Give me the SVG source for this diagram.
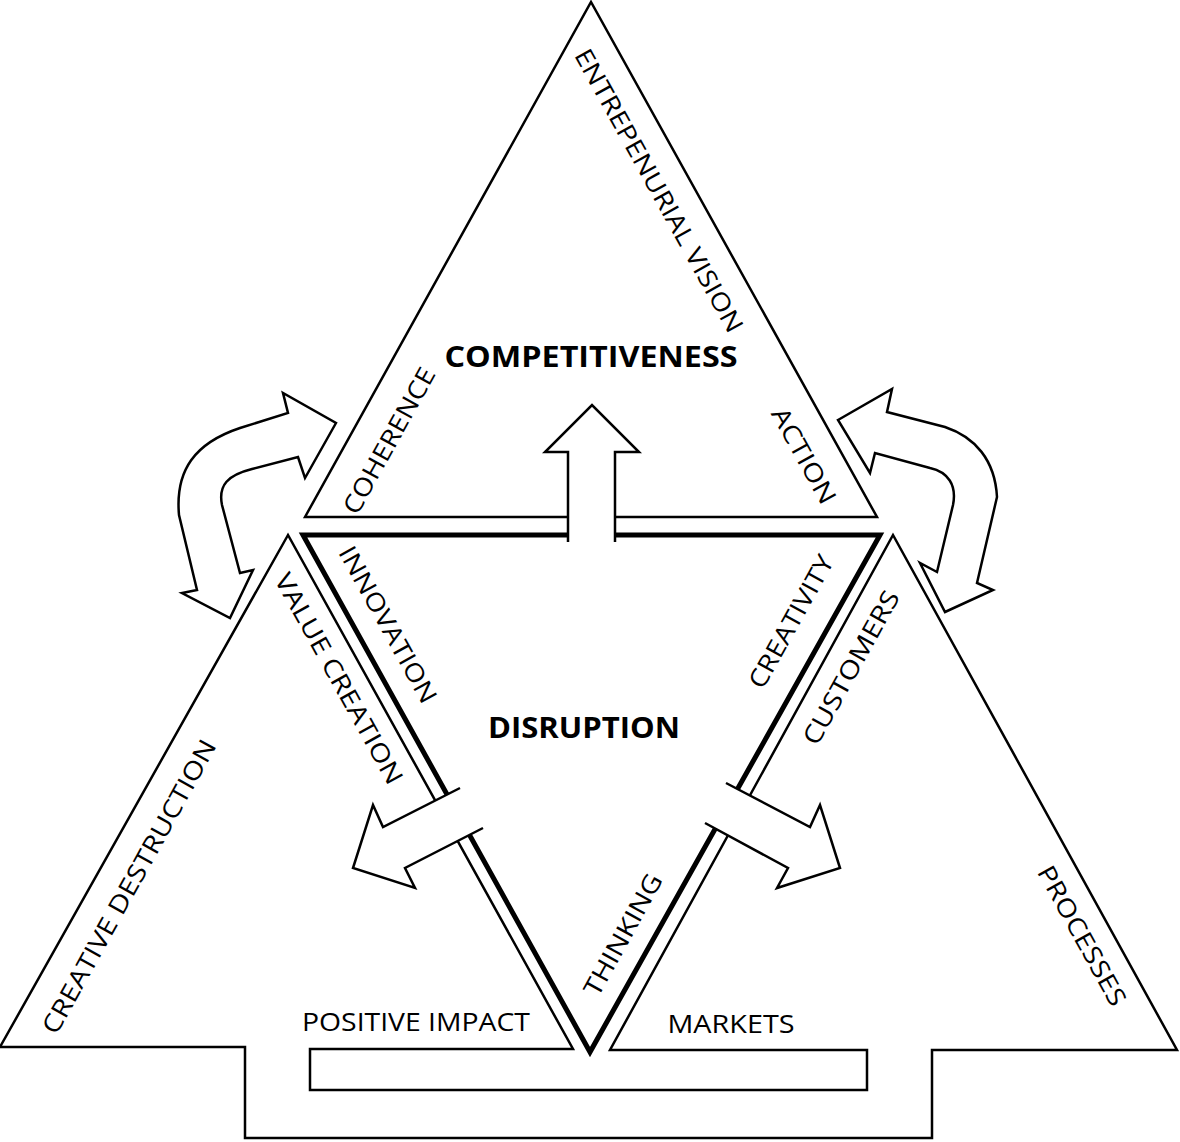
<svg xmlns="http://www.w3.org/2000/svg" width="1180" height="1142" viewBox="0 0 1180 1142">
<style>
.thin{fill:none;stroke:#000;stroke-width:2.5;stroke-linejoin:miter}
.thick{fill:none;stroke:#000;stroke-width:5;stroke-linejoin:miter}
.arrow{fill:#fff;stroke:#000;stroke-width:2.5;stroke-linejoin:miter}
.lbl{font-family:"Open Sans","Liberation Sans",sans-serif;font-size:25px;fill:#000;text-anchor:middle;dominant-baseline:central}
.title{font-family:"Open Sans","Liberation Sans",sans-serif;font-size:28px;font-weight:bold;fill:#000;text-anchor:middle;dominant-baseline:central}
</style>
<rect width="1180" height="1142" fill="#fff"/>
<g id="competitiveness">
<path class="thin" d="M305,517 L591,2 L877,517 Z"/>
<text class="title" x="591" y="356" textLength="293" lengthAdjust="spacingAndGlyphs">COMPETITIVENESS</text>
<text class="lbl" transform="translate(660,190) rotate(61)" textLength="320" lengthAdjust="spacingAndGlyphs">ENTREPENURIAL VISION</text>
<text class="lbl" transform="translate(388,440) rotate(-61)" textLength="163" lengthAdjust="spacingAndGlyphs">COHERENCE</text>
<text class="lbl" transform="translate(805,455) rotate(61)" textLength="106" lengthAdjust="spacingAndGlyphs">ACTION</text>
</g>
<g id="base">
<path class="thin" d="M288,535 L0,1047 L245,1047 L245,1138 L932,1138 L932,1050 L1177,1050 L893,535 L610,1050 L867,1050 L867,1090 L310,1090 L310,1049 L573,1049 Z"/>
<text class="lbl" transform="translate(128,886) rotate(-61)" textLength="332" lengthAdjust="spacingAndGlyphs">CREATIVE DESTRUCTION</text>
<text class="lbl" transform="translate(340,678) rotate(61)" textLength="237" lengthAdjust="spacingAndGlyphs">VALUE CREATION</text>
<text class="lbl" transform="translate(850,667) rotate(-61)" textLength="172" lengthAdjust="spacingAndGlyphs">CUSTOMERS</text>
<text class="lbl" transform="translate(1083,935) rotate(61)" textLength="156" lengthAdjust="spacingAndGlyphs">PROCESSES</text>
<text class="lbl" x="416" y="1021" textLength="228" lengthAdjust="spacingAndGlyphs">POSITIVE IMPACT</text>
<text class="lbl" x="731" y="1023" textLength="127" lengthAdjust="spacingAndGlyphs">MARKETS</text>
</g>
<g id="disruption">
<path class="thick" d="M303,535 L880,535 L590,1052 Z"/>
<text class="title" x="584" y="727" textLength="192" lengthAdjust="spacingAndGlyphs">DISRUPTION</text>
<text class="lbl" transform="translate(389,624) rotate(61)" textLength="175" lengthAdjust="spacingAndGlyphs">INNOVATION</text>
<text class="lbl" transform="translate(790,621) rotate(-61)" textLength="148" lengthAdjust="spacingAndGlyphs">CREATIVITY</text>
<text class="lbl" transform="translate(622,934) rotate(-61)" textLength="135" lengthAdjust="spacingAndGlyphs">THINKING</text>
</g>
<g id="connectors">
<path id="arrow-up" class="arrow" d="M568,542 L568,452 L545,452 L592,405 L639,452 L615,452 L615,542"/>
<path id="arrow-left-down" class="arrow" d="M460,788 L383,827 L373,805 L353,868 L415,888 L405,868 L483,828"/>
<path id="arrow-right-down" class="arrow" d="M726,783 L810,827 L820,805 L840,868 L777,888 L788,868 L705,823"/>
<path id="arrow-left-curved" class="arrow" d="M336,423 L305,478 L298,457 L252,469 C228,475 218,485 222,505 L240,573 L253,570 L230,618 L182,593 L197,590 L179,515 C175,470 195,443 240,428 L288,413 L283,393 Z"/>
<path id="arrow-right-curved" class="arrow" d="M838,420 L892,389 L887,412 L945,427 C975,437 995,460 997,497 L977,583 L993,590 L945,612 L920,563 L937,572 L953,505 C957,485 948,472 930,468 L875,453 L870,473 Z"/>
</g>
</svg>
